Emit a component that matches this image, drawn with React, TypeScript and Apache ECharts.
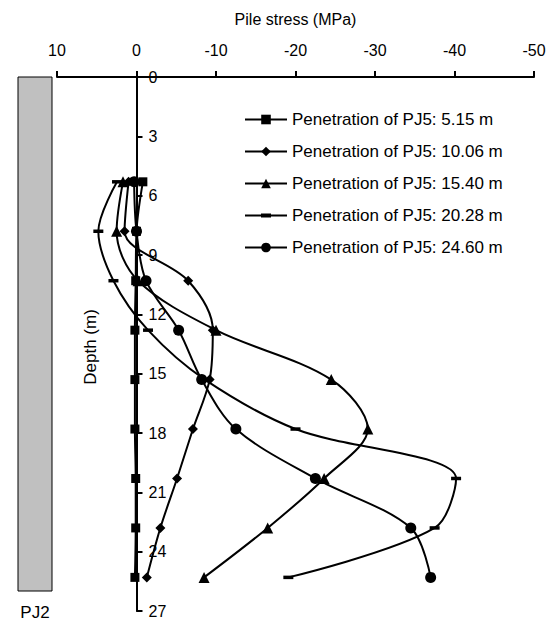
import React, { useEffect, useRef } from "react";
import * as echarts from "echarts";

const depths = [5.3, 7.8, 10.3, 12.8, 15.3, 17.8, 20.3, 22.8, 25.3];
const pen515 = [-0.8, 0, 0.1, 0.2, 0.2, 0.2, 0.1, 0.1, 0.2];
const pen1006 = [1.0, 1.5, -6.5, -9.6, -9.2, -7.1, -5.1, -3.0, -1.3];
const pen1540 = [1.7, 2.5, -0.2, -10.0, -24.5, -29.1, -23.6, -16.5, -8.5];
const pen2028 = [2.45, 4.8, 2.9, -1.45, -8.6, -20.0, -40.2, -37.5, -19.1];
const pen2460 = [0.3, 0.0, -1.2, -5.3, -8.2, -12.5, -22.5, -34.5, -37.0];

const seriesNames = [
  "Penetration of PJ5: 5.15 m",
  "Penetration of PJ5: 10.06 m",
  "Penetration of PJ5: 15.40 m",
  "Penetration of PJ5: 20.28 m",
  "Penetration of PJ5: 24.60 m",
];
const seriesValues = [pen515, pen1006, pen1540, pen2028, pen2460];

const GRID_LEFT = 57;
const GRID_RIGHT = 19;
const WIDTH = 553;

export default function App() {
  const ref = useRef<HTMLDivElement>(null);
  useEffect(() => {
    const chart = echarts.init(ref.current!, null, { renderer: "svg" });
    const font = "Arial, 'Liberation Sans', sans-serif";
    const symbols = ["rect", "diamond", "triangle", "rect", "circle"];
    const sizes: any[] = [9, 10, 11, [10, 3.5], 11];
    const dashIcon = "path://M0 0M42 12M0 5H42V7H0ZM16 4H26V8H16Z";
    // y axis placed at stress = 0 (x = 10 -> left edge, -50 -> right edge)
    const plotW = WIDTH - GRID_LEFT - GRID_RIGHT;
    const zeroX = GRID_LEFT + (plotW * 10) / 60;
    const yOffset = -(WIDTH - GRID_RIGHT - zeroX);
    const option: any = {
      animation: false,
      textStyle: { fontFamily: font },
      grid: { left: GRID_LEFT, right: GRID_RIGHT, top: 77, bottom: 9, containLabel: false, outerBoundsMode: "none" },
      legend: {
        orient: "vertical",
        left: 239,
        top: 106,
        itemWidth: 42,
        itemHeight: 12,
        itemGap: 15,
        selectedMode: false,
        textStyle: { fontSize: 17, color: "#000", fontFamily: font },
        data: seriesNames.map((n, i) => (i === 3 ? { name: n, icon: dashIcon } : { name: n })),
      },
      xAxis: {
        type: "value",
        position: "top",
        inverse: true,
        min: -50,
        max: 10,
        interval: 10,
        name: "Pile stress (MPa)",
        nameLocation: "middle",
        nameGap: 50,
        nameTextStyle: { fontSize: 16, color: "#000", fontFamily: font },
        axisLine: { onZero: false, lineStyle: { color: "#000", width: 2 } },
        axisTick: { length: 6, lineStyle: { color: "#000", width: 2 } },
        axisLabel: { fontSize: 16, color: "#000", margin: 19, fontFamily: font },
        splitLine: { show: false },
      },
      yAxis: {
        type: "value",
        position: "right",
        offset: yOffset,
        inverse: true,
        min: 0,
        max: 27,
        interval: 3,
        axisLine: { onZero: false, lineStyle: { color: "#000", width: 2 } },
        axisTick: { inside: false, length: 6, lineStyle: { color: "#000", width: 2 } },
        axisLabel: { inside: false, fontSize: 16, color: "#000", margin: 12, fontFamily: font },
        splitLine: { show: false },
      },
      graphic: [
        {
          type: "rect",
          shape: { x: 18, y: 77, width: 34, height: 514 },
          style: { fill: "#c0c0c0", stroke: "#000", lineWidth: 1 },
        },
        {
          type: "text",
          x: 35,
          y: 612,
          style: { text: "PJ2", fontSize: 17, fill: "#000", align: "center", verticalAlign: "middle", fontFamily: font },
        },
        {
          type: "text",
          x: 90,
          y: 347,
          rotation: Math.PI / 2,
          style: { text: "Depth (m)", fontSize: 17, fill: "#000", align: "center", verticalAlign: "middle", fontFamily: font },
        },
      ],
      series: seriesNames.map((name, i) => ({
        name,
        type: "line",
        smooth: 0.33,
        symbol: symbols[i],
        symbolSize: sizes[i],
        showAllSymbol: true,
        lineStyle: { color: "#000", width: 2 },
        itemStyle: { color: "#000", borderWidth: 0 },
        emphasis: { disabled: true },
        data: depths.map((d, j) => [seriesValues[i][j], d]),
      })),
    };
    chart.setOption(option);
    return () => chart.dispose();
  }, []);
  return <div ref={ref} style={{ position: "absolute", left: 0, top: 0, width: 553, height: 620 }} />;
}
